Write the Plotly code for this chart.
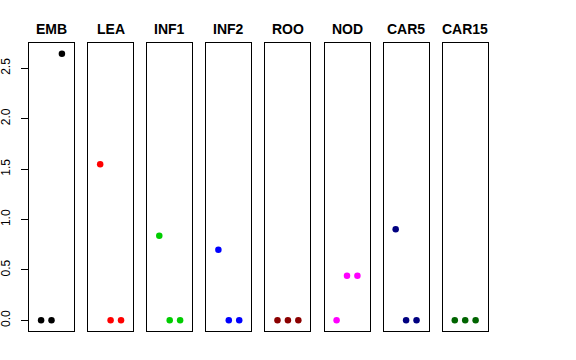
import plotly.graph_objects as go

tissues = ["EMB", "LEA", "INF1", "INF2", "ROO", "NOD", "CAR5", "CAR15"]
colors = ["#000000", "#FF0000", "#00CD00", "#0000FF", "#8B0000", "#FF00FF", "#000080", "#006400"]
positions = [1, 2, 3]
values = [
    [0.0, 0.0, 2.645],
    [1.548, 0.0, 0.0],
    [0.84, 0.0, 0.0],
    [0.70, 0.0, 0.0],
    [0.0, 0.0, 0.0],
    [0.0, 0.443, 0.443],
    [0.903, 0.0, 0.0],
    [0.0, 0.0, 0.0],
]
y_ticks = [0.0, 0.5, 1.0, 1.5, 2.0, 2.5]

W, H = 576, 360
left0, step, pw = 29, 59.1, 45
top, bottom = 43, 331

ymax = max(max(v) for v in values)
yr = [0 - 0.04 * ymax, ymax * 1.04]
xr = [0 - 0.04 * 4, 4 * 1.04]

fig = go.Figure()
layout = dict(
    width=W, height=H, margin=dict(l=0, r=0, t=0, b=0),
    paper_bgcolor="white", plot_bgcolor="white", showlegend=False,
    font=dict(family="Liberation Sans, Arial, sans-serif", size=12, color="black"),
)
annotations = []
for i, (name, col, vals) in enumerate(zip(tissues, colors, values)):
    k = "" if i == 0 else str(i + 1)
    fig.add_trace(go.Scatter(
        x=positions, y=vals, mode="markers",
        marker=dict(color=col, size=6.5, line=dict(width=0)),
        xaxis="x" + k, yaxis="y" + k, cliponaxis=False,
    ))
    x0 = left0 + i * step
    layout["xaxis" + k] = dict(
        domain=[x0 / W, (x0 + pw) / W], range=xr, anchor="y" + k,
        showgrid=False, zeroline=False, showticklabels=False, ticks="",
        showline=True, mirror=True, linecolor="black", linewidth=1,
    )
    ya = dict(
        domain=[1 - bottom / H, 1 - top / H], range=yr, anchor="x" + k,
        showgrid=False, zeroline=False,
        showline=True, mirror=True, linecolor="black", linewidth=1,
    )
    if i == 0:
        ya.update(tickmode="array", tickvals=y_ticks,
                  ticktext=[f"{t:.1f}" for t in y_ticks],
                  ticks="outside", ticklen=7, tickcolor="black", tickwidth=1,
                  tickangle=-90, tickfont=dict(size=12), ticklabelstandoff=6)
    else:
        ya.update(showticklabels=False, ticks="")
    layout["yaxis" + k] = ya
    annotations.append(dict(
        text="<b>" + name + "</b>", x=(x0 + pw / 2) / W, y=1 - 29 / H,
        xref="paper", yref="paper", xanchor="center", yanchor="middle",
        showarrow=False, font=dict(size=14, color="black"),
    ))
layout["annotations"] = annotations
fig.update_layout(**layout)
fig.write_html("out.html", config={"displayModeBar": False},
               post_script="document.body.style.margin='0';document.body.style.overflow='hidden';")
